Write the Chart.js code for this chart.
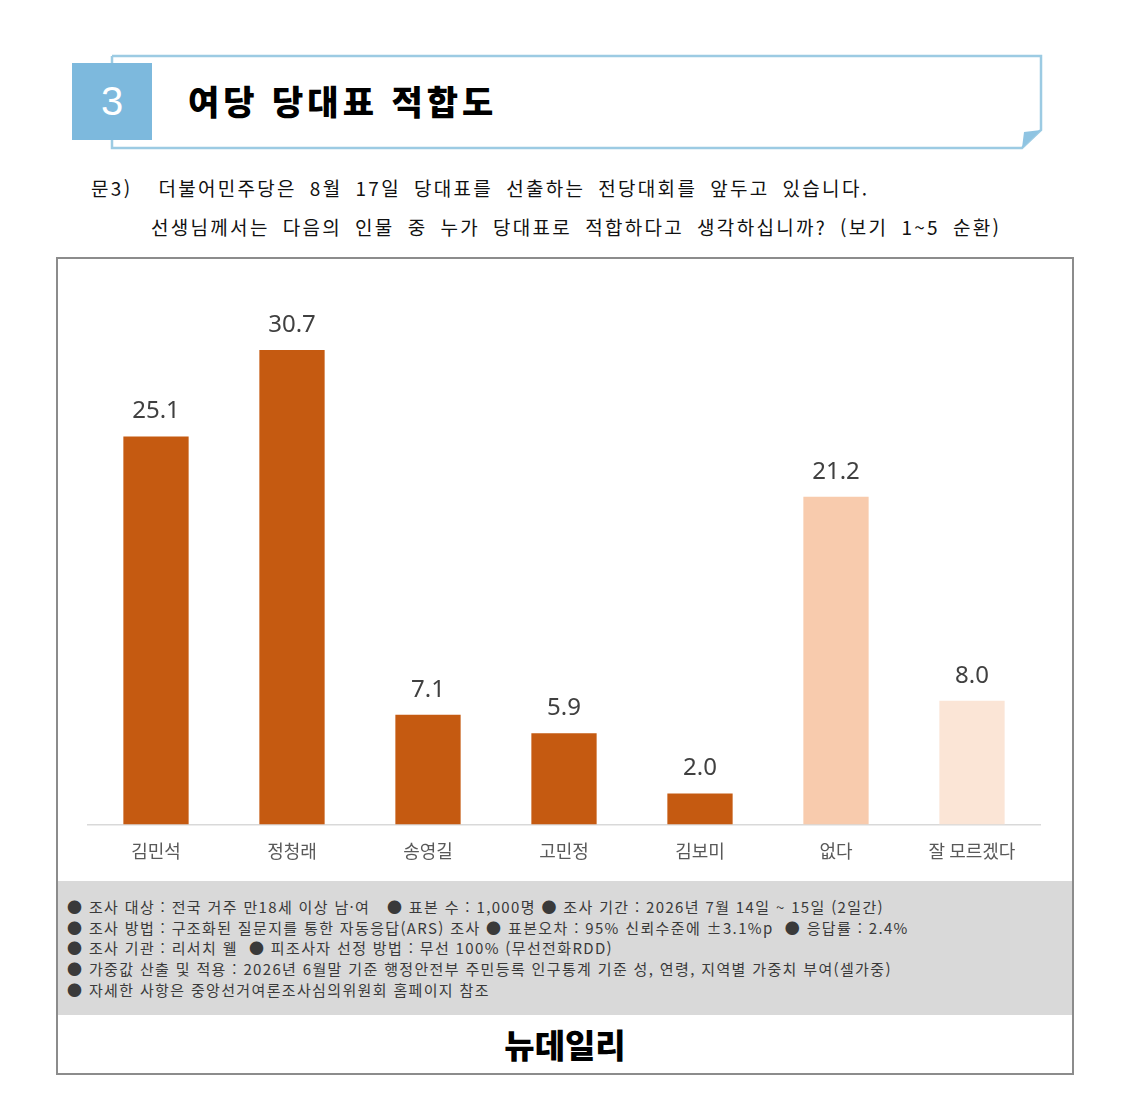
<!DOCTYPE html>
<html lang="ko">
<head>
<meta charset="utf-8">
<title>여당 당대표 적합도</title>
<script src="https://cdn.jsdelivr.net/npm/chart.js@4.4.1/dist/chart.umd.min.js"></script>
<style>
  body { margin: 0; background: #fff; font-family: "Noto Sans CJK KR", "Noto Sans", sans-serif; }
  #page { position: relative; width: 1132px; height: 1116px; overflow: hidden; }
  .abs { position: absolute; white-space: nowrap; }
  #headSvg { position: absolute; left: 0; top: 0; }
  #num { left: 72px; top: 63px; width: 80px; height: 77px; background: #7db9dd; color: #fff;
         font-size: 40px; line-height: 77px; text-align: center; font-family: "Liberation Sans", sans-serif; }
  #title { left: 188px; top: 76px; font-size: 34px; font-weight: 900; color: #000; letter-spacing: 4px; }
  .q { font-size: 19px; color: #111; letter-spacing: 2.3px; word-spacing: 5.4px; }
  #box { left: 56px; top: 257px; width: 1014px; height: 814px; border: 2px solid #8c8c8c; }
  #chartWrap { left: 58px; top: 259px; width: 1014px; height: 621px; }
  #notes { left: 58px; top: 881px; width: 1014px; height: 134px; background: #d9d9d9; }
  .note { font-size: 15px; color: #3a3a3a; left: 67px; letter-spacing: 1.35px; }
  #brand { left: 58px; top: 1020px; width: 1014px; text-align: center; font-size: 33px; font-weight: 900; color: #000; }
</style>
</head>
<body>
<div id="page">
  <svg id="headSvg" width="1132" height="160">
    <polyline points="112,56 1041,56 1041,130 1022,148 112,148 112,56" fill="#fff" stroke="#9ccbe3" stroke-width="2.5"/>
    <polygon points="1022,148 1041,130 1024,132" fill="#8fc4e2"/>
  </svg>
  <div class="abs" id="num">3</div>
  <div class="abs" id="title">여당 당대표 적합도</div>
  <div class="abs q" style="left:91px; top:174px;">문3)&nbsp; 더불어민주당은 8월 17일 당대표를 선출하는 전당대회를 앞두고 있습니다.</div>
  <div class="abs q" style="left:151px; top:213px;">선생님께서는 다음의 인물 중 누가 당대표로 적합하다고 생각하십니까? (보기 1~5 순환)</div>

  <div class="abs" id="box"></div>
  <div class="abs" id="chartWrap"><canvas id="barChart"></canvas></div>
  <div class="abs" id="notes"></div>
  <div class="abs note" style="top:896px;">● 조사 대상 : 전국 거주 만18세 이상 남·여&nbsp;&nbsp; ● 표본 수 : 1,000명 ● 조사 기간 : 2026년 7월 14일 ~ 15일 (2일간)</div>
  <div class="abs note" style="top:917px;">● 조사 방법 : 구조화된 질문지를 통한 자동응답(ARS) 조사 ● 표본오차 : 95% 신뢰수준에 ±3.1%p&nbsp; ● 응답률 : 2.4%</div>
  <div class="abs note" style="top:937px;">● 조사 기관 : 리서치 웰&nbsp; ● 피조사자 선정 방법 : 무선 100% (무선전화RDD)</div>
  <div class="abs note" style="top:958px;">● 가중값 산출 및 적용 : 2026년 6월말 기준 행정안전부 주민등록 인구통계 기준 성, 연령, 지역별 가중치 부여(셀가중)</div>
  <div class="abs note" style="top:979px;">● 자세한 사항은 중앙선거여론조사심의위원회 홈페이지 참조</div>
  <div class="abs" id="brand">뉴데일리</div>
</div>

<script>
// 항목과 값
const categories = ['김민석', '정청래', '송영길', '고민정', '김보미', '없다', '잘 모르겠다'];
const values = [25.1, 30.7, 7.1, 5.9, 2.0, 21.2, 8.0];
const barColors = ['#c55a11', '#c55a11', '#c55a11', '#c55a11', '#c55a11', '#f8cbad', '#fbe5d6'];

// 막대 위에 값 표시
const valueLabels = {
  id: 'valueLabels',
  afterDatasetsDraw(chart) {
    const ctx = chart.ctx;
    const meta = chart.getDatasetMeta(0);
    ctx.save();
    ctx.font = '24px "Noto Sans", "DejaVu Sans", sans-serif';
    ctx.fillStyle = '#404040';
    ctx.textAlign = 'center';
    ctx.textBaseline = 'bottom';
    meta.data.forEach((bar, i) => {
      ctx.fillText(values[i].toFixed(1), bar.x, bar.y - 13);
    });
    ctx.restore();
  }
};

new Chart(document.getElementById('barChart'), {
  type: 'bar',
  data: {
    labels: categories,
    datasets: [{
      data: values,
      backgroundColor: barColors,
      borderWidth: 0,
      barPercentage: 0.48,
      categoryPercentage: 1
    }]
  },
  options: {
    responsive: true,
    maintainAspectRatio: false,
    animation: false,
    layout: { padding: { left: 30, right: 32, top: 40, bottom: 2 } },
    scales: {
      x: {
        grid: { display: false, drawTicks: false },
        border: { display: true, color: '#d9d9d9', width: 1.5 },
        ticks: { color: '#595959', font: { size: 18, family: '"Noto Sans CJK KR"' }, padding: 16 }
      },
      y: {
        display: false,
        min: 0,
        max: 34
      }
    },
    plugins: {
      legend: { display: false },
      tooltip: { enabled: false }
    }
  },
  plugins: [valueLabels]
});
</script>
</body>
</html>
